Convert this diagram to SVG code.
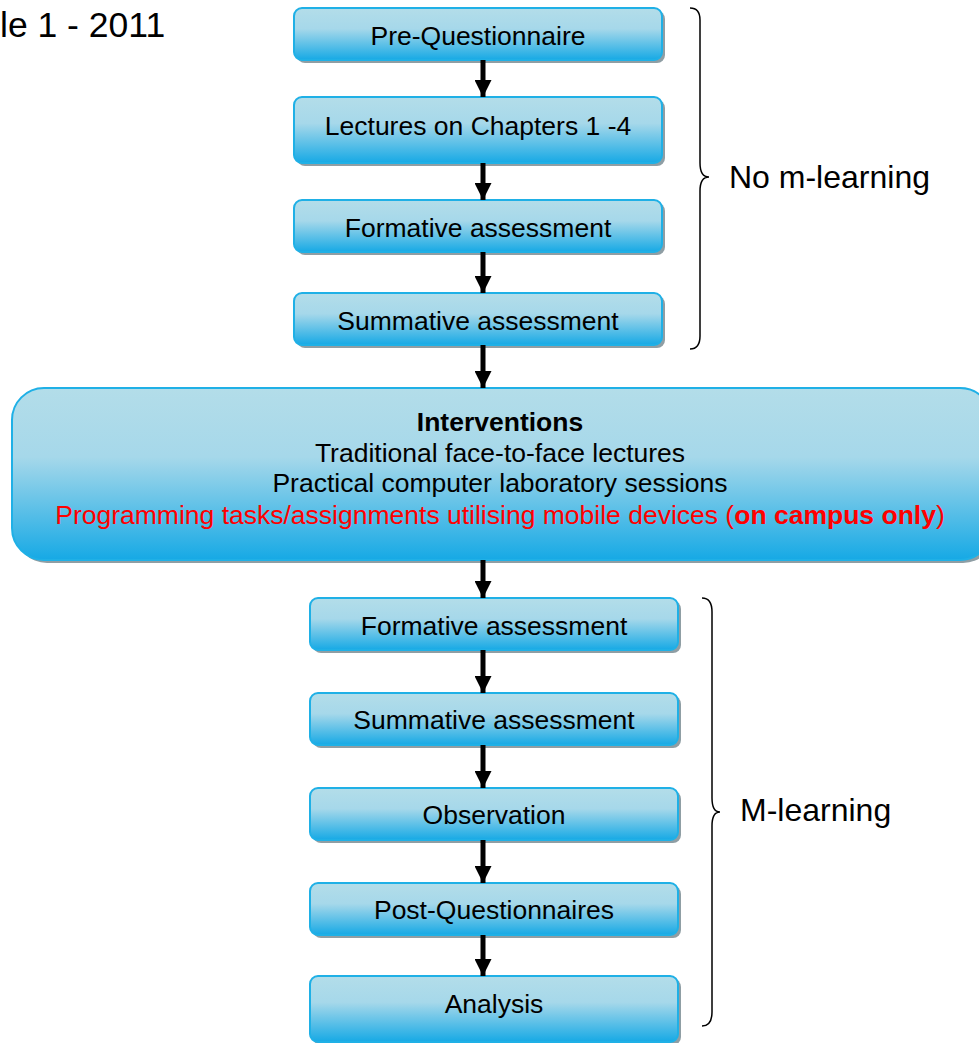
<svg xmlns="http://www.w3.org/2000/svg" width="979" height="1043" viewBox="0 0 979 1043">
<defs>
<linearGradient id="g" x1="0" y1="0" x2="0" y2="1">
<stop offset="0" stop-color="#b3dde9"/>
<stop offset="0.4" stop-color="#a6d8ea"/>
<stop offset="1" stop-color="#16a9e5"/>
</linearGradient>
<marker id="ah" viewBox="0 0 10 10" refX="10" refY="5" markerWidth="3.4" markerHeight="3.4" orient="auto" markerUnits="strokeWidth">
<path d="M0,0 L10,5 L0,10 z" fill="#000"/>
</marker>
</defs>
<style>
.box{fill:url(#g);stroke:#1fb0e6;stroke-width:2}
.sh{fill:#8f9ea4}
.t{font-family:"Liberation Sans",Arial,sans-serif;font-size:26.5px;fill:#000;text-anchor:middle}
.big{font-family:"Liberation Sans",Arial,sans-serif;font-size:32px;fill:#000}
.br{fill:none;stroke:#000;stroke-width:1.5}
.c{stroke:#000;stroke-width:5;fill:none;marker-end:url(#ah)}
</style>
<rect width="979" height="1043" fill="#fff"/>
<text class="big" x="0" y="37" style="font-size:35.5px">le 1 - 2011</text>

<g id="n1"><rect class="sh" x="297" y="11" width="368" height="52" rx="8"/><rect class="box" x="294" y="8" width="368" height="52" rx="8"/><text class="t" x="478" y="45">Pre-Questionnaire</text></g>
<g id="n2"><rect class="sh" x="297" y="100" width="368" height="66" rx="8"/><rect class="box" x="294" y="97" width="368" height="66" rx="8"/><text class="t" x="478" y="135">Lectures on Chapters 1 -4</text></g>
<g id="n3"><rect class="sh" x="297" y="203" width="368" height="52" rx="8"/><rect class="box" x="294" y="200" width="368" height="52" rx="8"/><text class="t" x="478" y="237">Formative assessment</text></g>
<g id="n4"><rect class="sh" x="297" y="296" width="368" height="52" rx="8"/><rect class="box" x="294" y="293" width="368" height="52" rx="8"/><text class="t" x="478" y="330">Summative assessment</text></g>

<g id="n5"><rect class="sh" x="15" y="391" width="980" height="172" rx="32"/><rect class="box" x="12" y="388" width="980" height="172" rx="32"/>
<text class="t" x="500" y="431" font-weight="bold">Interventions</text>
<text class="t" x="500" y="462">Traditional face-to-face lectures</text>
<text class="t" x="500" y="492">Practical computer laboratory sessions</text>
<text class="t" x="500" y="524" style="fill:#ff0000">Programming tasks/assignments utilising mobile devices (<tspan font-weight="bold">on campus only</tspan>)</text>
</g>

<g id="n6"><rect class="sh" x="313" y="601" width="368" height="52" rx="8"/><rect class="box" x="310" y="598" width="368" height="52" rx="8"/><text class="t" x="494" y="635">Formative assessment</text></g>
<g id="n7"><rect class="sh" x="313" y="696" width="368" height="52" rx="8"/><rect class="box" x="310" y="693" width="368" height="52" rx="8"/><text class="t" x="494" y="729">Summative assessment</text></g>
<g id="n8"><rect class="sh" x="313" y="791" width="368" height="52" rx="8"/><rect class="box" x="310" y="788" width="368" height="52" rx="8"/><text class="t" x="494" y="824">Observation</text></g>
<g id="n9"><rect class="sh" x="313" y="886" width="368" height="52" rx="8"/><rect class="box" x="310" y="883" width="368" height="52" rx="8"/><text class="t" x="494" y="919">Post-Questionnaires</text></g>
<g id="n10"><rect class="sh" x="313" y="979" width="368" height="66" rx="8"/><rect class="box" x="310" y="976" width="368" height="66" rx="8"/><text class="t" x="494" y="1013">Analysis</text></g>

<g id="connectors">
<line class="c" x1="483" y1="60" x2="483" y2="97"/>
<line class="c" x1="483" y1="163" x2="483" y2="200"/>
<line class="c" x1="483" y1="252" x2="483" y2="293"/>
<line class="c" x1="483" y1="345" x2="483" y2="388"/>
<line class="c" x1="483" y1="560" x2="483" y2="598"/>
<line class="c" x1="483" y1="650" x2="483" y2="693"/>
<line class="c" x1="483" y1="745" x2="483" y2="788"/>
<line class="c" x1="483" y1="840" x2="483" y2="883"/>
<line class="c" x1="483" y1="935" x2="483" y2="976"/>
</g>

<g id="braces">
<path class="br" d="M690,8 Q700,8 700,20 L700,163 Q700,177 709,177 Q700,177 700,191 L700,336 Q700,349 690,349"/>
<path class="br" d="M702,598 Q712,598 712,612 L712,798 Q712,812 720,812 Q712,812 712,826 L712,1012 Q712,1026 702,1026"/>
<text class="big" x="729" y="188">No m-learning</text>
<text class="big" x="740" y="821">M-learning</text>
</g>
</svg>
